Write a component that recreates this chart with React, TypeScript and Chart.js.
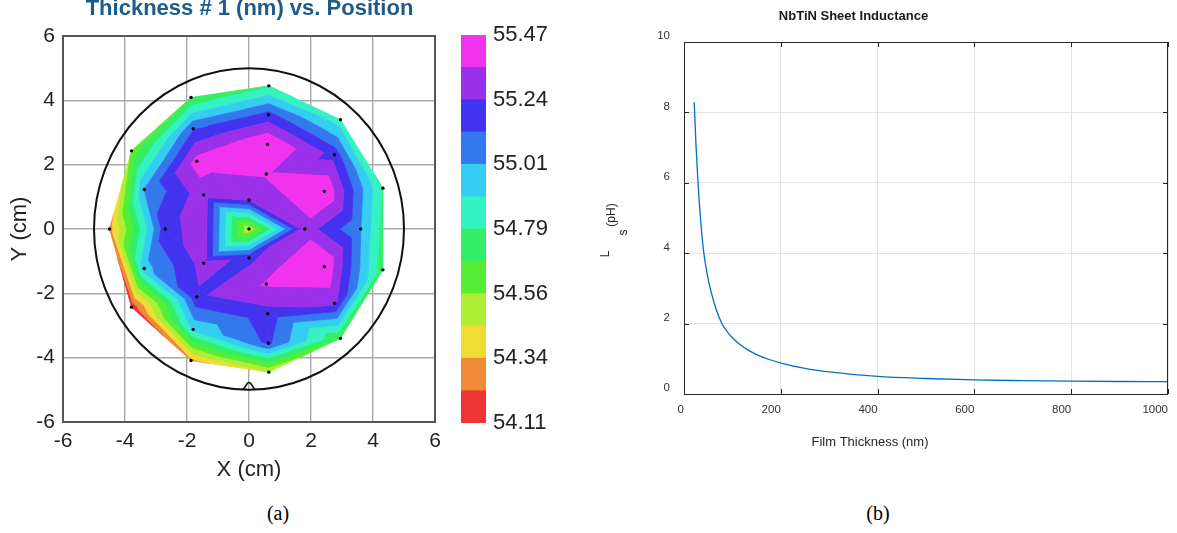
import React, { useEffect, useRef } from 'react';
import { Chart, registerables } from 'chart.js';

Chart.register(...registerables);

const SANS = '"Liberation Sans", Arial, Helvetica, sans-serif';

// ---------------- (a) wafer thickness map ----------------
const POINT_X = [
  0.0, 0.0, 0.0,
  1.8, 0.56, -1.46, -1.46, 0.56,
  2.43, 0.6, -1.68, -2.7, -1.68, 0.6, 2.43,
  3.6, 2.76, 0.63, -1.8, -3.38, -3.38, -1.8, 0.63, 2.76,
  4.32, 2.95, 0.64, -1.87, -3.79, -4.5, -3.79, -1.87, 0.64, 2.95, 4.32,
];
const POINT_Y = [
  0.0, 0.9, -0.9,
  0.0, 1.71, 1.06, -1.06, -1.71,
  1.17, 2.63, 2.11, 0.0, -2.11, -2.63, -1.17,
  0.0, 2.31, 3.55, 3.12, 1.23, -1.23, -3.12, -3.55, -2.31,
  1.27, 3.4, 4.45, 4.09, 2.43, 0.0, -2.43, -4.09, -4.45, -3.4, -1.27,
];
const THICKNESS_NM = [
  54.46, 55.25, 55.21,
  55.31, 55.37, 55.31, 55.29, 55.37,
  55.47, 55.47, 55.4, 55.2, 55.22, 55.2, 55.47,
  55.02, 55.2, 55.17, 55.12, 55.02, 54.97, 54.93, 55.15, 55.27,
  54.78, 54.83, 54.77, 54.68, 54.58, 54.28, 54.13, 54.3, 54.45, 54.68, 54.72,
];
// edges of the measurement mesh that the mapping tool joins the other way
const FLIPPED_EDGES = [[8, 14]];

const CONTOUR_LEVELS = [
  54.11, 54.223, 54.337, 54.45, 54.563, 54.677, 54.79,
  54.903, 55.017, 55.13, 55.243, 55.357, 55.47,
];
const BAND_COLORS = [
  '#ee3434', '#ef8a36', '#f0dd34', '#aeee34', '#56ee34', '#34ee66',
  '#34f2c2', '#36cdf2', '#3478ee', '#4333ef', '#9a30e7', '#f132ef',
];
const COLORBAR_TICKS = [54.11, 54.337, 54.563, 54.79, 55.017, 55.243, 55.47];
const COLORBAR_LABELS = ['54.11', '54.34', '54.56', '54.79', '55.01', '55.24', '55.47'];
const WAFER_RADIUS = 5;
const MAP_MIN = -6;
const MAP_MAX = 6;
const MAP_STEP = 2;

// ---------------- (b) NbTiN sheet inductance ----------------
const FILM_THICKNESS = [
  21, 22, 25, 29, 35, 41, 48, 56, 66, 79, 90, 100, 115, 131, 150, 176, 200,
  250, 300, 400, 500, 600, 700, 800, 900, 1000,
];
const SHEET_INDUCTANCE = [
  8.29, 8.0, 7.0, 6.0, 4.83, 4.0, 3.4, 2.9, 2.42, 1.98, 1.76, 1.6, 1.415, 1.26, 1.12, 0.98, 0.88,
  0.73, 0.63, 0.5, 0.44, 0.4, 0.38, 0.365, 0.355, 0.35,
];

// ---------------- helpers ----------------
function inCircle(ax: number, ay: number, bx: number, by: number, cx: number, cy: number, px: number, py: number) {
  const d = 2 * (ax * (by - cy) + bx * (cy - ay) + cx * (ay - by));
  if (Math.abs(d) < 1e-12) return false;
  const a2 = ax * ax + ay * ay, b2 = bx * bx + by * by, c2 = cx * cx + cy * cy;
  const ux = (a2 * (by - cy) + b2 * (cy - ay) + c2 * (ay - by)) / d;
  const uy = (a2 * (cx - bx) + b2 * (ax - cx) + c2 * (bx - ax)) / d;
  const r2 = (ax - ux) ** 2 + (ay - uy) ** 2;
  const d2 = (px - ux) ** 2 + (py - uy) ** 2;
  return d2 < r2 * (1 - 1e-9);
}

function triangulate(xs: number[], ys: number[]): number[][] {
  const n = xs.length;
  const px = xs.slice();
  const py = ys.slice();
  const M = 1000;
  px.push(-M, M, 0);
  py.push(-M, -M, M);
  let tris: number[][] = [[n, n + 1, n + 2]];
  for (let i = 0; i < n; i++) {
    const bad: number[][] = [];
    const keep: number[][] = [];
    for (const t of tris) {
      if (inCircle(px[t[0]], py[t[0]], px[t[1]], py[t[1]], px[t[2]], py[t[2]], px[i], py[i])) bad.push(t);
      else keep.push(t);
    }
    const edges = new Map<string, { a: number; b: number; c: number }>();
    for (const t of bad) {
      const es = [[t[0], t[1]], [t[1], t[2]], [t[2], t[0]]];
      for (const [a, b] of es) {
        const key = a < b ? a + ',' + b : b + ',' + a;
        const e = edges.get(key);
        if (e) e.c++;
        else edges.set(key, { a, b, c: 1 });
      }
    }
    tris = keep;
    edges.forEach((e) => {
      if (e.c === 1) tris.push([e.a, e.b, i]);
    });
  }
  tris = tris.filter((t) => t.every((v) => v < n));
  for (const [a, b] of FLIPPED_EDGES) {
    const shared = tris.filter((t) => t.includes(a) && t.includes(b));
    if (shared.length === 2) {
      const c = shared[0].find((v) => v !== a && v !== b) as number;
      const d = shared[1].find((v) => v !== a && v !== b) as number;
      tris = tris.filter((t) => !shared.includes(t));
      tris.push([a, c, d], [b, c, d]);
    }
  }
  return tris;
}

type V = { x: number; y: number; v: number };
function clipLevel(poly: V[], level: number, keepAbove: boolean): V[] {
  const out: V[] = [];
  const inside = (p: V) => (keepAbove ? p.v >= level : p.v <= level);
  for (let i = 0; i < poly.length; i++) {
    const a = poly[i];
    const b = poly[(i + 1) % poly.length];
    const ia = inside(a), ib = inside(b);
    if (ia) out.push(a);
    if (ia !== ib) {
      const t = (level - a.v) / (b.v - a.v);
      out.push({ x: a.x + t * (b.x - a.x), y: a.y + t * (b.y - a.y), v: level });
    }
  }
  return out;
}

const TRIANGLES = triangulate(POINT_X, POINT_Y);

const contourPlugin = {
  id: 'contourMap',
  beforeDatasetsDraw(chart: any) {
    const { ctx } = chart;
    const xs = chart.scales.x;
    const ys = chart.scales.y;
    ctx.save();
    ctx.lineJoin = 'round';
    ctx.lineWidth = 0.8;
    for (const tri of TRIANGLES) {
      const verts: V[] = tri.map((i) => ({
        x: xs.getPixelForValue(POINT_X[i]),
        y: ys.getPixelForValue(POINT_Y[i]),
        v: THICKNESS_NM[i],
      }));
      for (let k = 0; k < BAND_COLORS.length; k++) {
        let poly = verts;
        if (k > 0) poly = clipLevel(poly, CONTOUR_LEVELS[k], true);
        if (k < BAND_COLORS.length - 1) poly = clipLevel(poly, CONTOUR_LEVELS[k + 1], false);
        if (poly.length < 3) continue;
        ctx.beginPath();
        ctx.moveTo(poly[0].x, poly[0].y);
        for (let j = 1; j < poly.length; j++) ctx.lineTo(poly[j].x, poly[j].y);
        ctx.closePath();
        ctx.fillStyle = BAND_COLORS[k];
        ctx.strokeStyle = BAND_COLORS[k];
        ctx.fill();
        ctx.stroke();
      }
    }
    // wafer outline
    const cx = xs.getPixelForValue(0);
    const cy = ys.getPixelForValue(0);
    const rx = Math.abs(xs.getPixelForValue(WAFER_RADIUS) - cx);
    const ry = Math.abs(ys.getPixelForValue(WAFER_RADIUS) - cy);
    ctx.beginPath();
    ctx.ellipse(cx, cy, rx, ry, 0, 0, Math.PI * 2);
    ctx.strokeStyle = '#111';
    ctx.lineWidth = 2;
    ctx.stroke();
    // notch
    const nb = ys.getPixelForValue(-WAFER_RADIUS + 0.01);
    const na = ys.getPixelForValue(-WAFER_RADIUS + 0.22);
    const hw = Math.abs(xs.getPixelForValue(0.19) - cx);
    ctx.beginPath();
    ctx.moveTo(cx - hw, nb);
    ctx.lineTo(cx - 1.5, na + 0.5);
    ctx.quadraticCurveTo(cx, na - 1, cx + 1.5, na + 0.5);
    ctx.lineTo(cx + hw, nb);
    ctx.lineWidth = 1.6;
    ctx.stroke();
    ctx.restore();
  },
  afterDraw(chart: any) {
    const { ctx, chartArea } = chart;
    ctx.save();
    ctx.strokeStyle = '#555';
    ctx.lineWidth = 2;
    ctx.strokeRect(chartArea.left, chartArea.top, chartArea.right - chartArea.left, chartArea.bottom - chartArea.top);
    ctx.fillStyle = '#1d5b8a';
    ctx.font = 'bold 22px ' + SANS;
    ctx.textAlign = 'center';
    ctx.textBaseline = 'alphabetic';
    ctx.fillText('Thickness # 1 (nm) vs. Position', 249.5, 14.5);
    ctx.restore();
  },
};

const inductancePlugin = {
  id: 'inductanceDecor',
  afterDraw(chart: any) {
    const { ctx, chartArea } = chart;
    const { left, right, top, bottom } = chartArea;
    const xs = chart.scales.x;
    const ys = chart.scales.y;
    ctx.save();
    ctx.strokeStyle = '#262626';
    ctx.lineWidth = 1;
    ctx.beginPath();
    xs.ticks.forEach((t: any) => {
      const p = Math.round(xs.getPixelForValue(t.value)) + 0.5;
      ctx.moveTo(p, bottom);
      ctx.lineTo(p, bottom - 5);
      ctx.moveTo(p, top);
      ctx.lineTo(p, top + 5);
    });
    ys.ticks.forEach((t: any) => {
      const p = Math.round(ys.getPixelForValue(t.value)) + 0.5;
      ctx.moveTo(left, p);
      ctx.lineTo(left + 5, p);
      ctx.moveTo(right, p);
      ctx.lineTo(right - 5, p);
    });
    ctx.stroke();
    ctx.strokeRect(Math.round(left) + 0.5, Math.round(top) + 0.5, Math.round(right - left) - 1, Math.round(bottom - top));
    ctx.fillStyle = '#1a1a1a';
    ctx.textAlign = 'center';
    ctx.textBaseline = 'middle';
    ctx.font = 'bold 13px ' + SANS;
    ctx.fillText('NbTiN Sheet Inductance', 273.5, 16);
    ctx.fillStyle = '#262626';
    ctx.font = '13px ' + SANS;
    ctx.fillText('Film Thickness (nm)', 290, 442.5);
    ctx.font = '12px ' + SANS;
    const rot = (text: string, x: number, y: number) => {
      ctx.save();
      ctx.translate(x, y);
      ctx.rotate(-Math.PI / 2);
      ctx.fillText(text, 0, 0);
      ctx.restore();
    };
    rot('L', 26, 254);
    rot('s', 43.5, 232.5);
    rot('(pH)', 31.5, 215);
    ctx.restore();
  },
};

export default function App() {
  const mapRef = useRef<HTMLCanvasElement | null>(null);
  const barRef = useRef<HTMLCanvasElement | null>(null);
  const lineRef = useRef<HTMLCanvasElement | null>(null);

  useEffect(() => {
    document.body.style.margin = '0';
    Chart.defaults.font.family = SANS;
    const charts: Chart[] = [];

    // (a) map
    charts.push(
      new Chart(mapRef.current as HTMLCanvasElement, {
        type: 'scatter',
        data: {
          datasets: [
            {
              data: POINT_X.map((x, i) => ({ x, y: POINT_Y[i] })),
              pointRadius: 1.7,
              pointBackgroundColor: '#000',
              pointBorderWidth: 0,
            },
          ],
        },
        options: {
          responsive: false,
          animation: false,
          layout: { padding: { top: 36, right: 15, left: 0, bottom: 0 } },
          plugins: { legend: { display: false }, tooltip: { enabled: false } },
          scales: {
            x: {
              type: 'linear',
              min: MAP_MIN,
              max: MAP_MAX,
              afterFit: (s: any) => {
                s.height = 68;
              },
              ticks: { stepSize: MAP_STEP, color: '#222', font: { size: 21 }, padding: 7 },
              grid: { color: '#aaaaaa', lineWidth: 1.4, drawTicks: false },
              border: { display: false },
              title: { display: true, text: 'X (cm)', color: '#222', font: { size: 22 }, padding: { top: 0, bottom: 6.8 } },
            },
            y: {
              type: 'linear',
              min: MAP_MIN,
              max: MAP_MAX,
              afterFit: (s: any) => {
                s.width = 63;
              },
              ticks: { stepSize: MAP_STEP, color: '#222', font: { size: 21 }, padding: 8 },
              grid: { color: '#aaaaaa', lineWidth: 1.4, drawTicks: false },
              border: { display: false },
              title: { display: true, text: 'Y (cm)', color: '#222', font: { size: 22 }, padding: { top: 6.8, bottom: 0 } },
            },
          },
        },
        plugins: [contourPlugin],
      } as any)
    );

    // colour bar
    charts.push(
      new Chart(barRef.current as HTMLCanvasElement, {
        type: 'bar',
        data: {
          labels: ['scale'],
          datasets: BAND_COLORS.map((c, k) => ({
            data: [[CONTOUR_LEVELS[k], CONTOUR_LEVELS[k + 1]]],
            backgroundColor: c,
            borderWidth: 0,
            grouped: false,
            barPercentage: 1,
            categoryPercentage: 1,
          })),
        },
        options: {
          responsive: false,
          animation: false,
          layout: { padding: { top: 35, bottom: 37, left: 11, right: 0 } },
          plugins: { legend: { display: false }, tooltip: { enabled: false } },
          scales: {
            x: { display: false },
            y: {
              position: 'right',
              min: CONTOUR_LEVELS[0],
              max: CONTOUR_LEVELS[CONTOUR_LEVELS.length - 1],
              afterFit: (s: any) => {
                s.width = 74;
              },
              afterBuildTicks: (s: any) => {
                s.ticks = COLORBAR_TICKS.map((value) => ({ value }));
              },
              ticks: {
                color: '#222',
                font: { size: 22 },
                padding: 7,
                autoSkip: false,
                callback: (_v: any, i: number) => COLORBAR_LABELS[i],
              },
              grid: { display: false, drawTicks: false },
              border: { display: false },
            },
          },
        },
      } as any)
    );

    // (b) inductance
    charts.push(
      new Chart(lineRef.current as HTMLCanvasElement, {
        type: 'line',
        data: {
          datasets: [
            {
              data: FILM_THICKNESS.map((x, i) => ({ x, y: SHEET_INDUCTANCE[i] })),
              borderColor: '#0072bd',
              borderWidth: 1.3,
              pointRadius: 0,
              cubicInterpolationMode: 'monotone',
              fill: false,
            },
          ],
        },
        options: {
          responsive: false,
          animation: false,
          layout: { padding: { top: 42, right: 7, left: 0, bottom: 0 } },
          plugins: { legend: { display: false }, tooltip: { enabled: false } },
          scales: {
            x: {
              type: 'linear',
              min: 0,
              max: 1000,
              afterFit: (s: any) => {
                s.height = 86;
              },
              ticks: {
                stepSize: 200,
                align: 'end',
                color: '#333',
                font: { size: 11.5 },
                padding: 9,
                callback: (v: any) => String(v),
              },
              grid: { color: '#e4e4e4', lineWidth: 1, drawTicks: false },
              border: { display: false },
            },
            y: {
              type: 'linear',
              min: 0,
              max: 10,
              afterFit: (s: any) => {
                s.width = 104;
              },
              ticks: {
                stepSize: 2,
                align: 'end',
                color: '#333',
                font: { size: 11.5 },
                padding: 14,
                callback: (v: any) => String(v),
              },
              grid: { color: '#e4e4e4', lineWidth: 1, drawTicks: false },
              border: { display: false },
            },
          },
        },
        plugins: [inductancePlugin],
      } as any)
    );

    return () => {
      charts.forEach((c) => c.destroy());
    };
  }, []);

  const caption: React.CSSProperties = {
    position: 'absolute',
    top: 500,
    width: 100,
    textAlign: 'center',
    fontFamily: '"Liberation Serif", "Times New Roman", serif',
    fontSize: 20,
    lineHeight: '26px',
    color: '#000',
  };

  return (
    <div style={{ position: 'relative', width: 1177, height: 533, background: '#fff', overflow: 'hidden' }}>
      <canvas ref={mapRef} width={450} height={490} style={{ position: 'absolute', left: 0, top: 0, width: 450, height: 490 }} />
      <canvas ref={barRef} width={110} height={460} style={{ position: 'absolute', left: 450, top: 0, width: 110, height: 460 }} />
      <canvas ref={lineRef} width={597} height={480} style={{ position: 'absolute', left: 580, top: 0, width: 597, height: 480 }} />
      <div style={{ ...caption, left: 228 }}>(a)</div>
      <div style={{ ...caption, left: 828 }}>(b)</div>
    </div>
  );
}
